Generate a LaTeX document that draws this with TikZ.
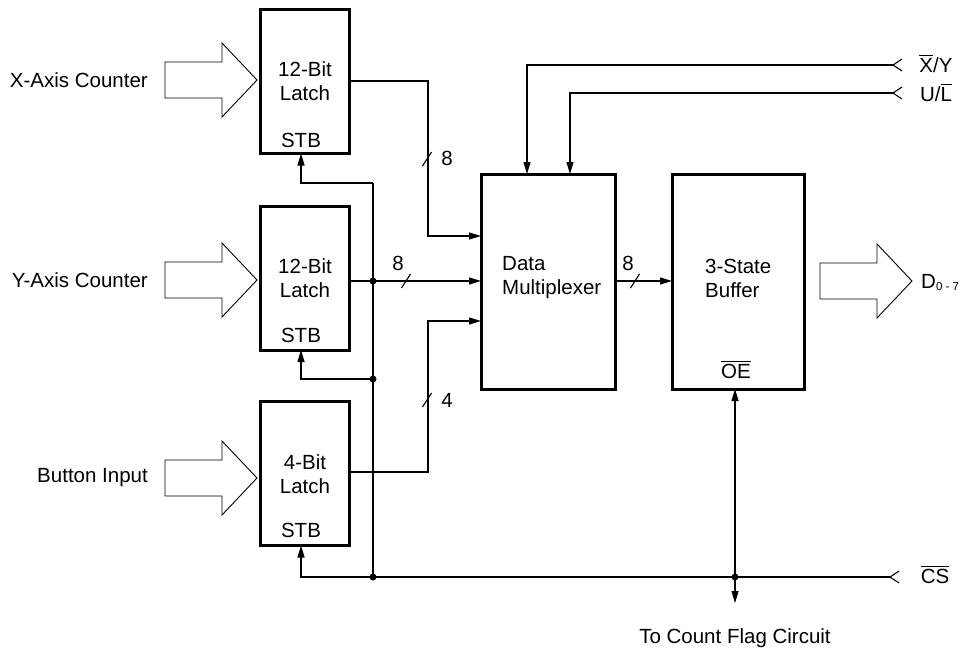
\documentclass[tikz,border=0pt]{standalone}
\usepackage{fontspec}
\setmainfont{Liberation Sans}
\usetikzlibrary{arrows.meta}
\newcommand\ovl[1]{\leavevmode\hbox{\vbox{\hrule height 1pt\kern 2.5pt\hbox{#1}}}}
\begin{document}
\begin{tikzpicture}[x=1pt,y=-1pt,
  box/.style={draw, line width=3pt, inner sep=0pt, outer sep=0pt},
  txt/.style={font=\fontsize{20.5}{24}\selectfont, inner sep=0pt, align=center},
  wire/.style={line width=1.1pt},
  arr/.style={wire, -{Triangle[length=12pt,width=7pt]}},
  dotm/.style={circle, fill, inner sep=0pt, minimum size=7pt},
  pics/barrow/.style={code={\draw[line width=0.9pt] (-92,-18) -- (-35,-18) -- (-35,-37) -- (0,0) -- (-35,37) -- (-35,18) -- (-92,18) -- cycle;}},
  pics/inmark/.style={code={\draw[wire] (9,-6) -- (0,0) -- (9,6);}}]
\useasboundingbox (0,0) rectangle (963,651);

% boxes
\node[box, minimum width=89pt, minimum height=144pt] (L1) at (304.5,81.5) {};
\node[box, minimum width=89pt, minimum height=144pt] (L2) at (304.5,278) {};
\node[box, minimum width=89pt, minimum height=144pt] (L3) at (304.5,473.5) {};
\node[box, minimum width=134pt, minimum height=215pt] (MUX) at (548,281.5) {};
\node[box, minimum width=132pt, minimum height=215pt] (BUF) at (738,281.5) {};

% box texts
\node[txt] (t1) at (305,81.5) {12-Bit\\Latch};
\node[txt] (t2) at (305,278.5) {12-Bit\\Latch};
\node[txt] (t3) at (305,474.5) {4-Bit\\Latch};
\node[txt] (s1) at (301,140) {STB};
\node[txt] (s2) at (301,335) {STB};
\node[txt] (s3) at (301,530) {STB};
\node[txt, align=left, anchor=west] (tm) at (502,278) {Data\\Multiplexer};
\node[txt, align=left, anchor=west] (tb) at (705,278) {3-State\\Buffer};
\node[txt] (oe) at (736,370) {\ovl{OE}};

% block arrows and input labels
\pic at ([xshift=-3pt]L1.west |- 0,80) {barrow};
\pic at ([xshift=-3pt]L2.west |- 0,280) {barrow};
\pic at ([xshift=-3pt]L3.west |- 0,478) {barrow};
\pic at (912,281) {barrow};
\node[txt, anchor=east] (lx) at (148,80) {X-Axis Counter};
\node[txt, anchor=east] (ly) at (148,280) {Y-Axis Counter};
\node[txt, anchor=east] (lb) at (148,478) {Button Input};
\node[txt, anchor=west] (ld) at (921,282) {D\raisebox{-2pt}{\fontsize{11.5}{12}\selectfont 0 - 7}};

% coordinates
\coordinate (j1) at (428,236);
\coordinate (bus2) at (373,281);
\coordinate (j3) at (428,321);
\coordinate (sT) at (373,183);
\coordinate (sM) at (373,379);
\coordinate (sB) at (373,577);
\coordinate (csin) at (890,577);
\coordinate (oej) at (735,577);
\coordinate (flag) at (735,603);
\coordinate (xyin) at (893,65);
\coordinate (xyc) at (527,65);
\coordinate (ulin) at (893,93);
\coordinate (ulc) at (570,93);

% data paths
\draw[arr] (L1.east |- 0,81) -| (j1) -- (j1 -| MUX.west);
\draw[arr] (bus2 -| L2.east) -- (bus2 -| MUX.west);
\draw[arr] (L3.east |- 0,472) -| (j3) -- (j3 -| MUX.west);
\draw[arr] (bus2 -| MUX.east) -- (bus2 -| BUF.west);

% bus slashes and widths
\foreach \p in {(427,159),(406,281),(427,400),(635,281)}
  \draw[wire] \p ++(-4.5,7) -- ++(9,-14);
\node[txt] (w1) at (447,158) {8};
\node[txt] (w2) at (398,263) {8};
\node[txt] (w3) at (447,400) {4};
\node[txt] (w4) at (628,263) {8};

% strobe bus
\draw[wire] (sT) -- (sB);
\draw[arr] (sT) -| ([xshift=-3.5pt]L1.south);
\draw[arr] (sM) -| ([xshift=-3.5pt]L2.south);
\draw[arr] (sB) -| ([xshift=-3.5pt]L3.south);
\draw[wire] (csin) -- (sB);
\draw[arr] (oej) -- (oej |- BUF.south);
\draw[arr] (oej) -- (flag);
\node[dotm] (d1) at (bus2) {};
\node[dotm] (d2) at (sM) {};
\node[dotm] (d3) at (sB) {};
\node[dotm] (d4) at (oej) {};

% control inputs
\draw[arr] (xyin) -- (xyc) -- (xyc |- MUX.north);
\draw[arr] (ulin) -- (ulc) -- (ulc |- MUX.north);
\pic at (xyin) {inmark};
\pic at (ulin) {inmark};
\pic at (csin) {inmark};
\node[txt] (lxy) at (936,64) {\ovl{X}/Y};
\node[txt] (lul) at (936,93) {U/\ovl{L}};
\node[txt] (lcs) at (935,575) {\ovl{CS}};
\node[txt] (lflag) at (735,638) {To Count Flag Circuit};
\end{tikzpicture}
\end{document}
